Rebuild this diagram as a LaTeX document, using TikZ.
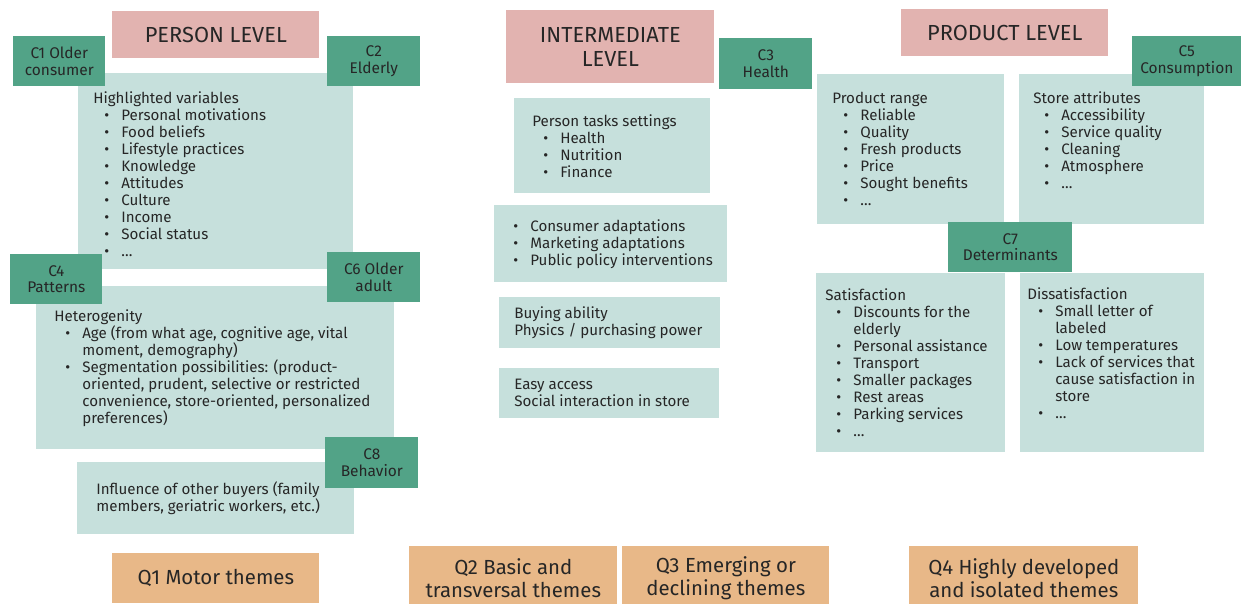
\documentclass[tikz,border=0pt]{standalone}
\usepackage{fontspec}
\setmainfont{Fira Sans}
\usepackage{xcolor}
\usetikzlibrary{shapes, positioning}

\definecolor{levelpink}{HTML}{E2B3B0}
\definecolor{clustergreen}{HTML}{52A387}
\definecolor{panelteal}{HTML}{C6E0DC}
\definecolor{quadorange}{HTML}{E8B888}
\definecolor{textgray}{HTML}{262626}

\newcommand{\bodyfont}{\fontsize{8.6}{9.67}\selectfont}
\newcommand{\clusterfont}{\fontsize{8.8}{9.4}\selectfont}
\newcommand{\titlefont}{\fontsize{12.4}{13.6}\selectfont}
\newcommand{\quadfont}{\fontsize{11.6}{13}\selectfont}
\newcommand{\pbul}{\makebox[0.34cm][l]{\textbullet}}
\newcommand{\pitem}{\hspace*{0.22cm}\pbul}
\newcommand{\pcont}{\hspace*{0.56cm}}

\begin{document}
\begin{tikzpicture}[x=0.02cm, y=-0.02cm]

\tikzstyle{level} = [rectangle, anchor=north west, inner sep=0pt, fill=levelpink, text=textgray, font=\titlefont, align=center]
\tikzstyle{cluster} = [rectangle, anchor=north west, inner sep=0pt, fill=clustergreen, text=textgray, font=\clusterfont, align=center, minimum height=1cm]
\tikzstyle{panel} = [rectangle, anchor=north west, inner sep=0pt, fill=panelteal]
\tikzstyle{paneltext} = [inner sep=0pt, text=textgray, font=\bodyfont, align=left]
\tikzstyle{quadrant} = [rectangle, anchor=north west, inner sep=0pt, fill=quadorange, text=textgray, font=\quadfont, align=center]

\useasboundingbox (0,0) rectangle (1241,603);

% level headers
\node (plevel) [level, minimum width=4.14cm, minimum height=0.94cm] at (112,11) {PERSON LEVEL};
\node (ilevel) [level, minimum width=4.16cm, minimum height=1.46cm] at (506,10) {INTERMEDIATE\\LEVEL};
\node (prlevel) [level, minimum width=4.14cm, minimum height=0.94cm] at (901,9) {PRODUCT LEVEL};

% person level
\node (vars) [panel, minimum width=5.5cm, minimum height=3.92cm] at (78,73) {};
\node (varstext) [paneltext, right=0.3cm of vars.west, yshift=-0.05cm] {Highlighted variables\\
  \pitem Personal motivations\\ \pitem Food beliefs\\ \pitem Lifestyle practices\\
  \pitem Knowledge\\ \pitem Attitudes\\ \pitem Culture\\ \pitem Income\\
  \pitem Social status\\ \pitem …};
\node (het) [panel, minimum width=7.16cm, minimum height=3.26cm] at (36,286) {};
\node (hettext) [paneltext, right=0.36cm of het.west] {Heterogenity\\
  \pitem Age (from what age, cognitive age, vital\\ \pcont moment, demography)\\
  \pitem Segmentation possibilities: (product-\\ \pcont oriented, prudent, selective or restricted\\
  \pcont convenience, store-oriented, personalized\\ \pcont preferences)};
\node (infl) [panel, minimum width=5.54cm, minimum height=1.44cm] at (77,462) {};
\node (infltext) [paneltext, right=0.38cm of infl.west] {Influence of other buyers (family\\members, geriatric workers, etc.)};

% intermediate level
\node (tasks) [panel, minimum width=3.92cm, minimum height=1.9cm] at (514,98) {};
\node (taskstext) [paneltext, right=0.36cm of tasks.west] {Person tasks settings\\
  \pitem Health\\ \pitem Nutrition\\ \pitem Finance};
\node (adapt) [panel, minimum width=4.66cm, minimum height=1.54cm] at (494,205) {};
\node (adapttext) [paneltext, right=0.38cm of adapt.west] {\pbul Consumer adaptations\\
  \pbul Marketing adaptations\\ \pbul Public policy interventions};
\node (buying) [panel, minimum width=4.42cm, minimum height=1.02cm] at (499,297) {};
\node (buyingtext) [paneltext, right=0.3cm of buying.west] {Buying ability\\Physics / purchasing power};
\node (easy) [panel, minimum width=4.4cm, minimum height=1cm] at (499,368) {};
\node (easytext) [paneltext, right=0.3cm of easy.west] {Easy access\\Social interaction in store};

% product level
\node (range) [panel, minimum width=3.74cm, minimum height=3cm] at (817,74) {};
\node (rangetext) [paneltext, right=0.3cm of range.west] {Product range\\
  \pitem Reliable\\ \pitem Quality\\ \pitem Fresh products\\ \pitem Price\\
  \pitem Sought benefits\\ \pitem …};
\node (store) [panel, minimum width=3.7cm, minimum height=3cm] at (1019,74) {};
\node (storetext) [paneltext, right=0.28cm of store.west, yshift=0.19cm] {Store attributes\\
  \pitem Accessibility\\ \pitem Service quality\\ \pitem Cleaning\\ \pitem Atmosphere\\ \pitem …};
\node (sat) [panel, minimum width=3.78cm, minimum height=3.58cm] at (816,273) {};
\node (sattext) [paneltext, right=0.18cm of sat.west] {Satisfaction\\
  \pitem Discounts for the\\ \pcont elderly\\ \pitem Personal assistance\\ \pitem Transport\\
  \pitem Smaller packages\\ \pitem Rest areas\\ \pitem Parking services\\ \pitem …};
\node (dissat) [panel, minimum width=3.68cm, minimum height=3.58cm] at (1020,273) {};
\node (dissattext) [paneltext, right=0.14cm of dissat.west, yshift=0.19cm] {Dissatisfaction\\
  \pitem Small letter of\\ \pcont labeled\\ \pitem Low temperatures\\
  \pitem Lack of services that\\ \pcont cause satisfaction in\\ \pcont store\\ \pitem …};

% clusters
\node (c1) [cluster, minimum width=1.84cm] at (13,36) {C1 Older\\consumer};
\node (c2) [cluster, minimum width=1.86cm] at (327,36) {C2\\Elderly};
\node (c3) [cluster, minimum width=1.86cm, minimum height=1.02cm] at (719,38) {C3\\Health};
\node (c4) [cluster, minimum width=1.84cm] at (10,254) {C4\\Patterns};
\node (c5) [cluster, minimum width=2.18cm] at (1132,36) {C5\\Consumption};
\node (c6) [cluster, minimum width=1.86cm] at (327,252) {C6 Older\\adult};
\node (c7) [cluster, minimum width=2.48cm] at (948,222) {C7\\Determinants};
\node (c8) [cluster, minimum width=1.86cm, minimum height=1.02cm] at (325,437) {C8\\Behavior};

% quadrants
\node (q1) [quadrant, minimum width=4.14cm, minimum height=1cm] at (112,553) {Q1 Motor themes};
\node (q2) [quadrant, minimum width=4.16cm, minimum height=1.26cm] at (409,546) {Q2 Basic and\\transversal themes};
\node (q3) [quadrant, minimum width=4.14cm, minimum height=1.26cm] at (622,546) {Q3 Emerging or\\declining themes};
\node (q4) [quadrant, minimum width=4.58cm, minimum height=1.26cm] at (909,546) {Q4 Highly developed\\and isolated themes};
\end{tikzpicture}
\end{document}
